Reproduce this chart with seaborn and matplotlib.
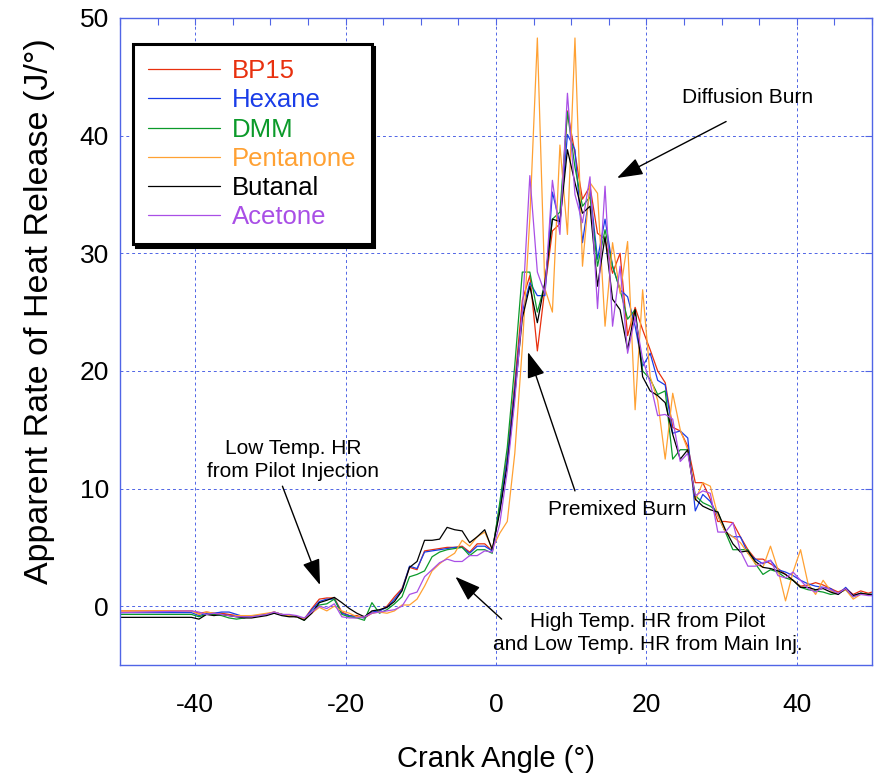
import numpy as np
import pandas as pd
import matplotlib
matplotlib.use('Agg')
import matplotlib.pyplot as plt
from matplotlib.ticker import MultipleLocator
import seaborn as sns

# crank angle (deg), first point is the flat pre-trace, last the end of record
angle = np.concatenate([[-50.0], np.arange(-40.5, 50, 1.0), [50.0]])

bp15 = [-0.4,
        -0.4, -0.6, -0.5, -0.6, -0.6, -0.7, -0.8, -0.9, -0.9, -0.8,
        -0.7, -0.5, -0.7, -0.8, -0.9, -1.1, -0.2, 0.6, 0.7, 0.7,
        -0.5, -0.8, -0.8, -1.0, -0.6, -0.4, 0.0, 0.8, 1.5, 3.3,
        3.1, 4.7, 4.8, 4.9, 5.0, 5.0, 5.1, 4.6, 5.3, 5.3,
        4.7, 8.5, 12.8, 19.0, 26.0, 28.1, 21.7, 27.0, 31.9, 32.5,
        42.1, 38.5, 34.6, 35.7, 31.7, 31.2, 28.3, 30.0, 23.0, 25.4,
        23.5, 21.8, 20.0, 19.0, 15.2, 14.9, 13.6, 10.5, 10.5, 9.1,
        7.2, 7.2, 7.1, 5.9, 4.8, 4.0, 4.0, 3.6, 3.2, 2.7,
        2.2, 1.7, 1.8, 2.0, 1.8, 1.5, 1.2, 1.5, 1.0, 1.3,
        1.1, 1.2]

hexane = [-0.55,
          -0.55, -0.8, -0.6, -0.6, -0.5, -0.5, -0.7, -0.9, -0.9, -0.8,
          -0.7, -0.5, -0.7, -0.8, -0.9, -1.1, -0.3, 0.4, 0.6, 0.6,
          -0.6, -0.8, -0.9, -1.0, -0.5, -0.4, -0.1, 0.6, 1.4, 3.4,
          3.2, 4.6, 4.7, 4.8, 4.9, 5.0, 5.0, 4.5, 5.1, 5.1,
          4.7, 8.3, 12.5, 18.5, 25.0, 27.5, 26.4, 26.4, 35.2, 32.5,
          40.1, 38.8, 30.9, 35.4, 29.5, 32.9, 28.9, 26.9, 26.3, 23.8,
          20.4, 21.5, 19.2, 18.8, 14.7, 14.9, 14.3, 8.1, 9.5, 8.9,
          7.7, 6.3, 5.9, 5.9, 4.5, 4.0, 3.6, 3.9, 3.1, 2.9,
          2.6, 2.2, 1.9, 1.7, 1.6, 1.5, 1.0, 1.6, 0.9, 1.1,
          1.0, 1.0]

dmm = [-0.7,
       -0.7, -0.9, -0.7, -0.7, -0.8, -1.0, -1.1, -1.0, -0.8, -0.8,
       -0.7, -0.6, -0.7, -0.8, -0.9, -1.2, -0.5, 0.1, 0.2, 0.6,
       -0.7, -0.9, -1.0, -1.2, 0.3, -0.6, -0.3, 0.2, 0.8, 2.5,
       2.7, 3.0, 4.2, 4.6, 4.8, 4.9, 5.0, 4.3, 4.8, 4.8,
       4.5, 8.8, 13.5, 20.5, 28.4, 28.4, 25.0, 27.4, 32.9, 33.5,
       42.0, 37.3, 34.0, 34.8, 28.9, 32.0, 28.9, 26.9, 24.4, 25.2,
       20.0, 19.3, 18.0, 18.3, 12.5, 13.3, 13.3, 9.4, 8.8, 8.5,
       8.0, 6.3, 4.8, 4.8, 4.8, 3.6, 2.7, 3.1, 2.9, 2.4,
       2.2, 1.6, 1.4, 1.3, 1.2, 1.0, 1.1, 1.4, 0.8, 1.1,
       1.0, 1.0]

pentanone = [-0.4,
             -0.4, -0.7, -0.5, -0.6, -0.7, -0.8, -0.8, -0.8, -0.8, -0.7,
             -0.6, -0.5, -0.7, -0.8, -0.9, -1.1, -0.6, -0.1, -0.4, 0.0,
             -0.4, -0.6, -0.9, -0.9, -0.6, -0.5, -0.6, -0.4, 0.1, 0.1,
             0.6, 1.7, 3.0, 3.6, 4.1, 4.5, 5.6, 5.1, 5.9, 6.3,
             4.9, 6.2, 7.2, 13.0, 22.0, 33.0, 48.3, 27.0, 25.0, 39.2,
             31.6, 48.3, 28.9, 36.0, 35.1, 23.8, 30.9, 26.6, 31.0, 16.7,
             26.9, 19.5, 17.5, 12.5, 18.1, 15.0, 13.3, 9.0, 10.5, 10.2,
             7.7, 6.3, 5.9, 5.4, 4.5, 3.6, 3.3, 5.1, 3.1, 0.45,
             2.9, 4.8, 1.9, 1.0, 2.2, 1.3, 1.1, 1.4, 0.6, 1.0,
             1.0, 0.9]

butanal = [-0.95,
           -0.95, -1.1, -0.7, -0.8, -0.7, -0.8, -0.9, -1.0, -1.0, -0.9,
           -0.8, -0.6, -0.8, -0.9, -0.9, -1.2, -0.6, 0.3, 0.5, 0.75,
           0.3, -0.2, -0.6, -0.9, -0.4, -0.3, -0.1, 0.4, 1.3, 3.3,
           3.8, 5.6, 5.6, 5.7, 6.7, 6.5, 6.4, 5.4, 5.9, 6.5,
           4.8, 8.0, 12.0, 18.0, 24.5, 27.2, 24.1, 27.5, 32.9, 32.7,
           38.8, 36.0, 33.4, 34.0, 27.2, 31.4, 26.1, 25.2, 21.8, 25.2,
           19.5, 18.3, 17.9, 17.3, 14.6, 12.5, 13.3, 9.1, 8.5, 8.2,
           8.0, 6.5, 5.3, 4.6, 4.7, 3.8, 3.3, 3.2, 3.0, 2.7,
           2.2, 1.6, 1.6, 1.4, 1.5, 1.2, 1.0, 1.5, 0.9, 1.1,
           1.0, 1.0]

acetone = [-0.55,
           -0.4, -0.5, -0.7, -0.6, -0.7, -0.8, -0.9, -0.9, -0.9, -0.8,
           -0.7, -0.5, -0.7, -0.7, -0.8, -1.0, -0.5, 0.0, -0.2, 0.2,
           -0.9, -1.0, -1.0, -0.9, -0.6, -0.5, -0.4, -0.3, 0.0, 1.0,
           1.2, 2.5, 3.1, 3.7, 4.0, 3.8, 3.8, 4.3, 4.3, 4.7,
           4.6, 7.0, 11.5, 17.5, 25.0, 36.6, 28.4, 26.6, 36.2, 31.6,
           43.6, 35.0, 32.6, 36.5, 25.3, 35.7, 23.8, 28.9, 21.5, 24.6,
           21.0, 19.0, 16.2, 16.3, 15.9, 12.3, 13.0, 9.4, 9.8, 9.6,
           6.3, 6.3, 7.1, 4.7, 3.4, 3.4, 3.7, 3.9, 2.6, 2.4,
           2.9, 2.2, 1.5, 1.2, 1.6, 1.4, 1.1, 1.5, 0.8, 1.0,
           0.9, 0.9]

fuels = ['BP15', 'Hexane', 'DMM', 'Pentanone', 'Butanal', 'Acetone']
colors = ['#e8300e', '#1a3de8', '#0b9a2a', '#ffa133', '#000000', '#a94fe6']
series = [bp15, hexane, dmm, pentanone, butanal, acetone]

df = pd.concat([pd.DataFrame({'angle': angle, 'hrr': v, 'fuel': f})
                for f, v in zip(fuels, series)], ignore_index=True)

sns.set_style('white')
plt.rcParams['font.family'] = ['Liberation Sans', 'DejaVu Sans']
plt.rcParams['axes.unicode_minus'] = False
plt.rcParams['text.color'] = 'black'
plt.rcParams['axes.labelcolor'] = 'black'

blue = '#5065e6'

fig = plt.figure(figsize=(8.79, 7.76), dpi=100)
ax = fig.add_axes([120 / 879, 1 - 665 / 776, 752 / 879, 647 / 776])

sns.lineplot(data=df, x='angle', y='hrr', hue='fuel', hue_order=fuels,
             palette=dict(zip(fuels, colors)), estimator=None, sort=False,
             lw=0.9, legend=False, ax=ax)

ax.set_xlim(-50, 50)
ax.set_ylim(-5, 50)
ax.set_xticks([-40, -20, 0, 20, 40])
ax.set_yticks([0, 10, 20, 30, 40, 50])
ax.xaxis.set_minor_locator(MultipleLocator(5))
ax.grid(True, which='major', color=blue, linestyle=(0, (3, 3)), linewidth=0.7)

for s in ax.spines.values():
    s.set_color(blue)
    s.set_linewidth(1.0)
ax.tick_params(which='both', direction='in', top=True, right=True,
               color=blue, length=5, width=0.8, labelcolor='black')
ax.tick_params(axis='x', which='major', pad=20, labelsize=19)
ax.tick_params(axis='y', which='major', pad=8, labelsize=19)

ax.set_xlabel('Crank Angle (°)', fontsize=21, labelpad=20)
ax.set_ylabel('Apparent Rate of Heat Release (J/°)', fontsize=24.5)
ax.yaxis.set_label_coords(-0.087, 0.547)

handles = [plt.Line2D([], [], color=c, lw=0.9) for c in colors]
leg = ax.legend(handles, fuels, loc='upper left', bbox_to_anchor=(0.017, 0.96),
                borderaxespad=0, fontsize=18.5, labelcolor=colors, frameon=True,
                fancybox=False, shadow={'color': 'black', 'alpha': 1},
                handlelength=2.8, handletextpad=0.45, labelspacing=0.2,
                borderpad=0.6)
leg.get_frame().set_edgecolor('black')
leg.get_frame().set_linewidth(2.2)
leg.get_frame().set_alpha(1)

arrow = dict(arrowstyle='-|>,head_length=1.6,head_width=0.55',
             color='black', lw=1.0, shrinkA=0, shrinkB=0, mutation_scale=10)

ax.text(33.4, 43.2, 'Diffusion Burn', fontsize=15, ha='center', va='center')
ax.annotate('', xy=(16.1, 36.4), xytext=(30.6, 41.2), arrowprops=arrow)

ax.text(16.1, 8.2, 'Premixed Burn', fontsize=15, ha='center', va='center')
ax.annotate('', xy=(4.25, 21.6), xytext=(10.5, 9.8), arrowprops=arrow)

ax.text(-27.0, 12.4, 'Low Temp. HR\nfrom Pilot Injection', fontsize=15,
        ha='center', va='center', linespacing=1.25)
ax.annotate('', xy=(-23.4, 1.8), xytext=(-28.4, 10.2), arrowprops=arrow)

ax.text(20.2, -2.3, 'High Temp. HR from Pilot\nand Low Temp. HR from Main Inj.',
        fontsize=15, ha='center', va='center', linespacing=1.25)
ax.annotate('', xy=(-5.4, 2.5), xytext=(0.75, -1.1), arrowprops=arrow)

fig.savefig('out.png', dpi=100)
